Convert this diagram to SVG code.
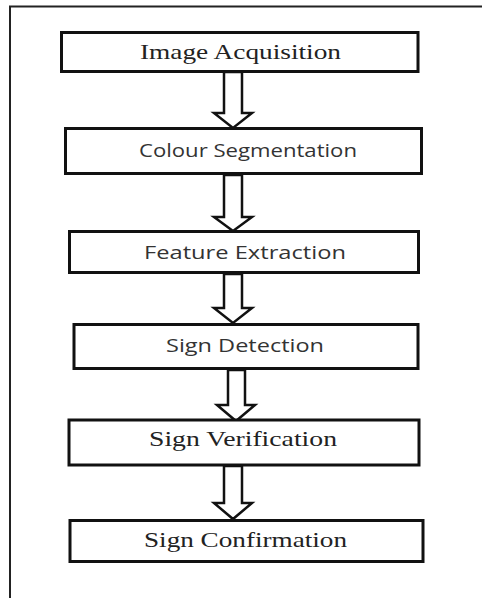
<svg xmlns="http://www.w3.org/2000/svg" width="482" height="598" viewBox="0 0 482 598">
<style>
.box{fill:#fff;stroke:#111;stroke-width:3}
.arr{fill:#fff;stroke:#111;stroke-width:2.5;stroke-linejoin:miter}
.serif{font-family:"Liberation Serif","Times New Roman",serif;font-size:21px;fill:#222}
.sans{font-family:"Open Sans","Liberation Sans",sans-serif;font-size:19px;fill:#333}
.frame{fill:none;stroke:#222;stroke-width:2}
</style>
<rect width="482" height="598" fill="#fff"/>
<path class="frame" d="M10,598 V6.5 H482"/>
<g id="connectors">
<polygon class="arr" points="224,72 242,72 242,113 252,113 233,128 214,113 224,113"/>
<polygon class="arr" points="224,175 242,175 242,217 252,217 233,231 214,217 224,217"/>
<polygon class="arr" points="224,274 242,274 242,308 252,308 233,323 214,308 224,308"/>
<polygon class="arr" points="228,370 245,370 245,405 255,405 236,421 217,405 228,405"/>
<polygon class="arr" points="224,466 242,466 242,503 252,503 233,519 214,503 224,503"/>
</g>
<g id="n1"><rect class="box" x="61.5" y="32.5" width="356.5" height="39"/><text class="serif" x="140" y="59" textLength="201" lengthAdjust="spacingAndGlyphs">Image Acquisition</text></g>
<g id="n2"><rect class="box" x="65.5" y="128.5" width="356" height="45"/><text class="sans" x="139" y="157" textLength="218" lengthAdjust="spacingAndGlyphs">Colour Segmentation</text></g>
<g id="n3"><rect class="box" x="69.5" y="231.5" width="349" height="41"/><text class="sans" x="144" y="259" textLength="202" lengthAdjust="spacingAndGlyphs">Feature Extraction</text></g>
<g id="n4"><rect class="box" x="74" y="324.5" width="344" height="44"/><text class="sans" x="166" y="352" textLength="158" lengthAdjust="spacingAndGlyphs">Sign Detection</text></g>
<g id="n5"><rect class="box" x="69" y="420" width="350" height="45"/><text class="serif" x="149" y="446" textLength="188" lengthAdjust="spacingAndGlyphs">Sign Verification</text></g>
<g id="n6"><rect class="box" x="70" y="520.5" width="353" height="41"/><text class="serif" x="144" y="547" textLength="203" lengthAdjust="spacingAndGlyphs">Sign Confirmation</text></g>
</svg>
